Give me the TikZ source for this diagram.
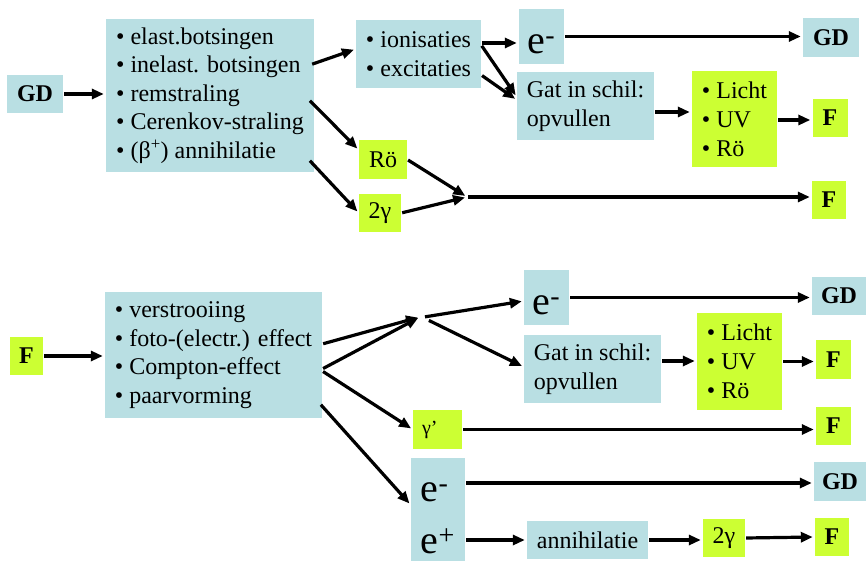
\documentclass[tikz,border=0pt]{standalone}
\usepackage{fontspec}
\setmainfont{Liberation Serif}
\usetikzlibrary{arrows.meta}
\definecolor{boxblue}{RGB}{185,223,227}
\definecolor{boxgreen}{RGB}{204,255,51}

\begin{document}
\begin{tikzpicture}[x=1pt,y=-1pt,
  font=\fontsize{24}{28.5}\selectfont,
  bluebox/.style={fill=boxblue, inner sep=0pt},
  greenbox/.style={fill=boxgreen, inner sep=0pt},
  big/.style={font=\fontsize{40}{53}\selectfont},
  arr/.style={line width=3.2pt, shorten <=1pt, shorten >=2pt,
    -{Triangle[length=12pt,width=10pt]}}]

\useasboundingbox (0,0) rectangle (866,561);

% top: charged particle
\node[bluebox, minimum width=56pt, minimum height=38pt] (gdA) at (35,94) {\textbf{GD}};
\node[bluebox, minimum width=208pt, minimum height=153pt, align=left] (list1) at (210,95.5)
  {• elast.botsingen\\• inelast. botsingen\\• remstraling\\• Cerenkov-straling\\• (β\textsuperscript{+}) annihilatie};
\node[bluebox, minimum width=125pt, minimum height=68pt, align=left] (ion) at (418.5,54)
  {• ionisaties\\• excitaties};
\node[bluebox, big, minimum width=45pt, minimum height=55pt] (emA) at (541.5,36.5) {\rule{0pt}{34pt}e\textsuperscript{-}};
\node[bluebox, minimum width=56pt, minimum height=39pt] (gdB) at (831,37.5) {\textbf{GD}};
\node[bluebox, minimum width=137pt, minimum height=68pt, align=left] (gatA) at (585.5,106)
  {Gat in schil:\\opvullen};
\node[greenbox, minimum width=85pt, minimum height=96pt, align=left,
  font=\fontsize{24}{29}\selectfont] (lichtA) at (734.5,119) {• Licht\\• UV\\• Rö};
\node[greenbox, minimum width=35pt, minimum height=38pt] (fA) at (830,118) {\textbf{F}};
\node[greenbox, minimum width=48pt, minimum height=39pt] (roe) at (383,159.5) {Rö};
\node[greenbox, minimum width=42pt, minimum height=38pt] (tgA) at (380,213) {2γ};
\node[greenbox, minimum width=34pt, minimum height=38pt] (fB) at (829,200) {\textbf{F}};
\coordinate (jA) at (467,197);

\draw[arr] (gdA.east) -- (gdA.east -| list1.west);
\draw[arr] ([shift={(-3pt,31pt)}]list1.east) -- ([yshift=5pt]ion.west);
\draw[arr] ([shift={(-5pt,-4.5pt)}]list1.east) -- ([yshift=9.5pt]roe.west);
\draw[arr] ([shift={(-5pt,-64.5pt)}]list1.east) -- (tgA.west);
\draw[arr] ([yshift=11pt]ion.east) -- ([yshift=-6.5pt]emA.west);
\draw[arr] (emA.east) -- (emA.east -| gdB.west);
\draw[arr] ([yshift=9pt]ion.east) -- ([yshift=9pt]gatA.west);
\draw[arr] ([yshift=-21pt]ion.east) -- ([yshift=6pt]gatA.west);
\draw[arr] ([yshift=-6pt]gatA.east) -- ([yshift=-6pt]gatA.east -| lichtA.west);
\draw[arr] ([yshift=-1pt]lichtA.east) -- ([yshift=-1pt]lichtA.east -| fA.west);
\draw[arr] (roe.east) -- (jA);
\draw[arr] (tgA.east) -- (jA);
\draw[arr] (jA) -- (jA -| fB.west);

% bottom: photon
\node[greenbox, minimum width=33pt, minimum height=38pt] (fC) at (26.5,356) {\textbf{F}};
\node[bluebox, minimum width=217pt, minimum height=126pt, align=left] (list2) at (213.5,355)
  {• verstrooiing\\• foto-(electr.) effect\\• Compton-effect\\• paarvorming};
\coordinate (jB) at (420,317);
\node[bluebox, big, minimum width=45pt, minimum height=55pt] (emB) at (546.5,297.5) {\rule{0pt}{34pt}e\textsuperscript{-}};
\node[bluebox, minimum width=54pt, minimum height=38pt] (gdC) at (839,296) {\textbf{GD}};
\node[bluebox, minimum width=137pt, minimum height=68pt, align=left] (gatB) at (592.5,369)
  {Gat in schil:\\opvullen};
\node[greenbox, minimum width=85pt, minimum height=97pt, align=left,
  font=\fontsize{24}{29}\selectfont] (lichtB) at (739.5,361.5) {• Licht\\• UV\\• Rö};
\node[greenbox, minimum width=35pt, minimum height=39pt] (fD) at (833.5,359.5) {\textbf{F}};
\node[greenbox, minimum height=39pt, text width=31pt, inner xsep=9pt, align=left,
  font=\fontsize{20}{24}\selectfont] (gp) at (437.5,429.5) {γ’};
\node[greenbox, minimum width=35pt, minimum height=38pt] (fE) at (833.5,426) {\textbf{F}};
\node[bluebox, minimum width=54pt, minimum height=104pt, align=left,
  font=\fontsize{40}{52}\selectfont] (ee) at (438,510)
  {\rule{0pt}{36pt}e\textsuperscript{-}\\e\textsuperscript{+}};
\node[bluebox, minimum width=52pt, minimum height=39pt] (gdD) at (840,481.5) {\textbf{GD}};
\node[bluebox, minimum width=121pt, minimum height=38pt] (ann) at (587.5,540) {annihilatie};
\node[greenbox, minimum width=42pt, minimum height=38pt] (tgB) at (724,538) {2γ};
\node[greenbox, minimum width=34pt, minimum height=38pt] (fF) at (832,537) {\textbf{F}};

\draw[arr] (fC.east) -- (fC.east -| list2.west);
\draw[arr] ([yshift=11pt]list2.east) -- (jB);
\draw[arr] ([yshift=-14pt]list2.east) -- (jB);
\draw[arr] ([xshift=4pt]jB) -- ([yshift=-3.5pt]emB.west);
\draw[arr] ([shift={(8pt,-3pt)}]jB) -- ([yshift=2pt]gatB.west);
\draw[arr] (emB.east) -- (emB.east -| gdC.west);
\draw[arr] ([yshift=8pt]gatB.east) -- ([yshift=8pt]gatB.east -| lichtB.west);
\draw[arr] (lichtB.east) -- (lichtB.east -| fD.west);
\draw[arr] ([yshift=-16pt]list2.east) -- (gp.west);
\draw[arr] (gp.east) -- (gp.east -| fE.west);
\draw[arr] ([shift={(-2pt,-49pt)}]list2.east) -- ([yshift=5pt]ee.west);
\draw[arr] ([yshift=27pt]ee.east) -- ([yshift=27pt]ee.east -| gdD.west);
\draw[arr] ([yshift=-30pt]ee.east) -- ([yshift=-30pt]ee.east -| ann.west);
\draw[arr] (ann.east) -- (ann.east -| tgB.west);
\draw[arr] (tgB.east) -- (fF.west);

\end{tikzpicture}
\end{document}
